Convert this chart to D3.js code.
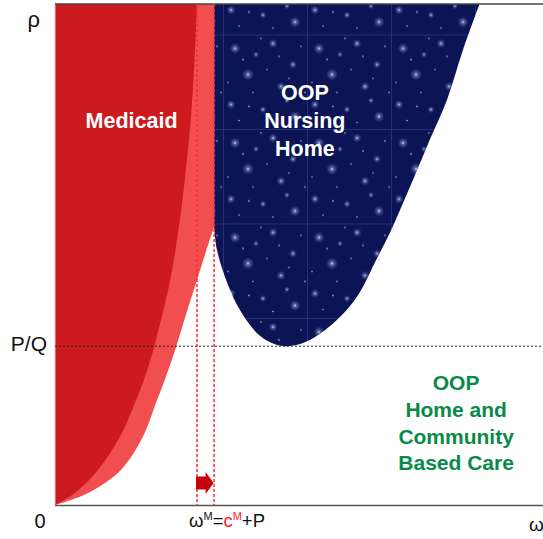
<!DOCTYPE html>
<html><head><meta charset="utf-8">
<script src="https://cdn.jsdelivr.net/npm/d3@7"></script>
<style>body{margin:0;background:#fff}svg{display:block}text{font-family:"Liberation Sans",Arial,sans-serif}</style>
</head><body>
<svg id="c" width="543" height="539"></svg>
<script>
// Boundary curves, in chart units (omega, rho)
const medicaidBoundary = [[0,0],[4.1,2.4],[8.8,7.0],[13.3,13.6],[16.4,20.4],[18.9,26.9],[21.2,34.9],[23.6,44.9],[25.3,54.9],[26.6,64.9],[27.8,76.8],[28.6,88.8],[29.1,100]];
const extendedBoundary = [[0,0],[6.8,2.4],[13.5,7.0],[18.0,13.6],[20.7,20.4],[22.5,25.0],[24.8,31.5],[27.0,38.5],[29.1,44.9],[30.9,50.5],[32.6,55.5]];
const nursingBoundary = [[32.6,55.5],[33.2,50.9],[35.3,44.3],[37.9,38.9],[41.4,34.3],[44.1,32.5],[47.1,31.7],[51.2,32.5],[55.3,34.9],[59.4,38.5],[62.5,42.5],[65.6,48.5],[68.7,54.5],[70.7,58.9],[73.8,65.9],[76.8,72.9],[80.3,80.8],[83.6,90.8],[87.0,100]];
const cM = 29.1, omegaM = 32.6, PQ = 31.7;
const regionLabels = [
  {lines:["Medicaid"], at:[15.7,76.8], color:"#ffffff"},
  {lines:["OOP","Nursing","Home"], at:[51.2,76.8], color:"#ffffff"},
  {lines:["OOP","Home and","Community","Based Care"], at:[82.2,16.4], color:"#0a8a48"}
];

const svg = d3.select("#c");
const x = d3.scaleLinear().domain([0,100]).range([55,543]);
const y = d3.scaleLinear().domain([0,100]).range([505,4]);

// star pattern
const defs = svg.append("defs");
const rg = defs.append("radialGradient").attr("id","glow");
rg.append("stop").attr("offset","0%").attr("stop-color","#ffffff").attr("stop-opacity",0.95);
rg.append("stop").attr("offset","25%").attr("stop-color","#c8d0ff").attr("stop-opacity",0.45);
rg.append("stop").attr("offset","100%").attr("stop-color","#8090ff").attr("stop-opacity",0);
const pat = defs.append("pattern").attr("id","stars").attr("patternUnits","userSpaceOnUse")
  .attr("x",55).attr("y",-60).attr("width",84).attr("height",94.5);
pat.append("rect").attr("width",84).attr("height",94.5).attr("fill","#0b1556");
pat.append("path").attr("d","M0,0.5H84M0.5,0V94.5").attr("stroke","rgba(140,150,220,0.2)").attr("stroke-width",1);
const starGlow = [[12,14,5.5],[50,9,4.5],[70,30,4],[25,40,6],[58,52,4.5],[8,70,4.5],[40,75,3.5],[72,82,5.5],[33,20,3],[64,66,3]];
const starDot = [[20,25],[44,35],[78,12],[5,48],[30,58],[66,44],[50,88],[16,86],[82,58],[38,4],[56,22],[26,72]];
pat.selectAll(".g").data(starGlow).join("circle").attr("cx",d=>d[0]).attr("cy",d=>d[1]).attr("r",d=>d[2]).attr("fill","url(#glow)");
pat.selectAll(".d").data(starDot).join("circle").attr("cx",d=>d[0]).attr("cy",d=>d[1]).attr("r",0.8).attr("fill","#dfe4ff").attr("opacity",0.8);

const line = d3.line().x(d=>x(d[0])).y(d=>y(d[1])).curve(d3.curveCatmullRom);

// Nursing home region
svg.append("path").attr("fill","url(#stars)")
  .attr("d", line(nursingBoundary) + `L${x(omegaM)},${y(100)}Z`);
// extended (light red) region
svg.append("path").attr("fill","#f14e4f")
  .attr("d", line(extendedBoundary) + `L${x(omegaM)},${y(100)}L${x(0)},${y(100)}Z`);
// Medicaid region
svg.append("path").attr("fill","#cd1a1f")
  .attr("d", line(medicaidBoundary) + `L${x(0)},${y(100)}Z`);

// left faint axis
svg.append("line").attr("x1",x(0)).attr("x2",x(0)).attr("y1",y(100)).attr("y2",y(0)).attr("stroke","#f0c8c8").attr("stroke-width",1);
// top & bottom lines
svg.append("line").attr("x1",x(0)).attr("x2",543).attr("y1",y(100)).attr("y2",y(100)).attr("stroke","#444").attr("stroke-width",1.5);
svg.append("line").attr("x1",x(0)).attr("x2",543).attr("y1",y(0)+0.5).attr("y2",y(0)+0.5).attr("stroke","#555").attr("stroke-width",1.5);

// dotted lines
svg.append("line").attr("x1",x(0)).attr("x2",543).attr("y1",y(PQ)).attr("y2",y(PQ)).attr("stroke","#222").attr("stroke-width",1).attr("stroke-dasharray","2,2");
[cM, omegaM].forEach(v=>{
  svg.append("line").attr("x1",x(v)).attr("x2",x(v)).attr("y1",y(100)).attr("y2",y(0)).attr("stroke","#ff2d2d").attr("stroke-width",1.5).attr("stroke-dasharray","3,2");
});

// arrow
const ay = y(0)-22, xa = x(cM)-1, xb = x(omegaM)-0.5, xm = xb-8;
svg.append("path").attr("fill","#c8000c")
  .attr("d",`M${xa},${ay-6.5}H${xm}V${ay-11}L${xb},${ay}L${xm},${ay+11}V${ay+6.5}H${xa}Z`);

// region labels
regionLabels.forEach(r=>{
  const n = r.lines.length, white = r.color==="#ffffff", lh = white ? 28 : 26.7;
  const t = svg.append("text").attr("text-anchor","middle").attr("fill",r.color)
    .attr("font-weight","bold").attr("font-size", white?21.5:21);
  r.lines.forEach((s,i)=>{
    t.append("tspan").attr("x",x(r.at[0])).attr("y",y(r.at[1]) + (i-(n-1)/2)*lh + 7.5).text(s);
  });
});

// axis labels
svg.append("text").attr("x",40).attr("y",27).attr("text-anchor","end").attr("font-size",22).attr("fill","#111").text("ρ");
svg.append("text").attr("x",47).attr("y",y(PQ)+5).attr("text-anchor","end").attr("font-size",21).attr("fill","#111").text("P/Q");
svg.append("text").attr("x",40).attr("y",528).attr("text-anchor","middle").attr("font-size",20).attr("fill","#111").text("0");
svg.append("text").attr("x",529).attr("y",531).attr("font-size",19).attr("fill","#111").text("ω");
const lab = svg.append("text").attr("x",189).attr("y",527).attr("font-size",18.5).attr("fill","#111");
lab.append("tspan").text("ω");
lab.append("tspan").attr("font-size",11).attr("dy",-7).text("M");
lab.append("tspan").attr("dy",7).text("=");
lab.append("tspan").attr("fill","#ff2020").text("c");
lab.append("tspan").attr("fill","#ff2020").attr("font-size",11).attr("dy",-7).text("M");
lab.append("tspan").attr("dy",7).text("+P");
</script>
</body></html>
